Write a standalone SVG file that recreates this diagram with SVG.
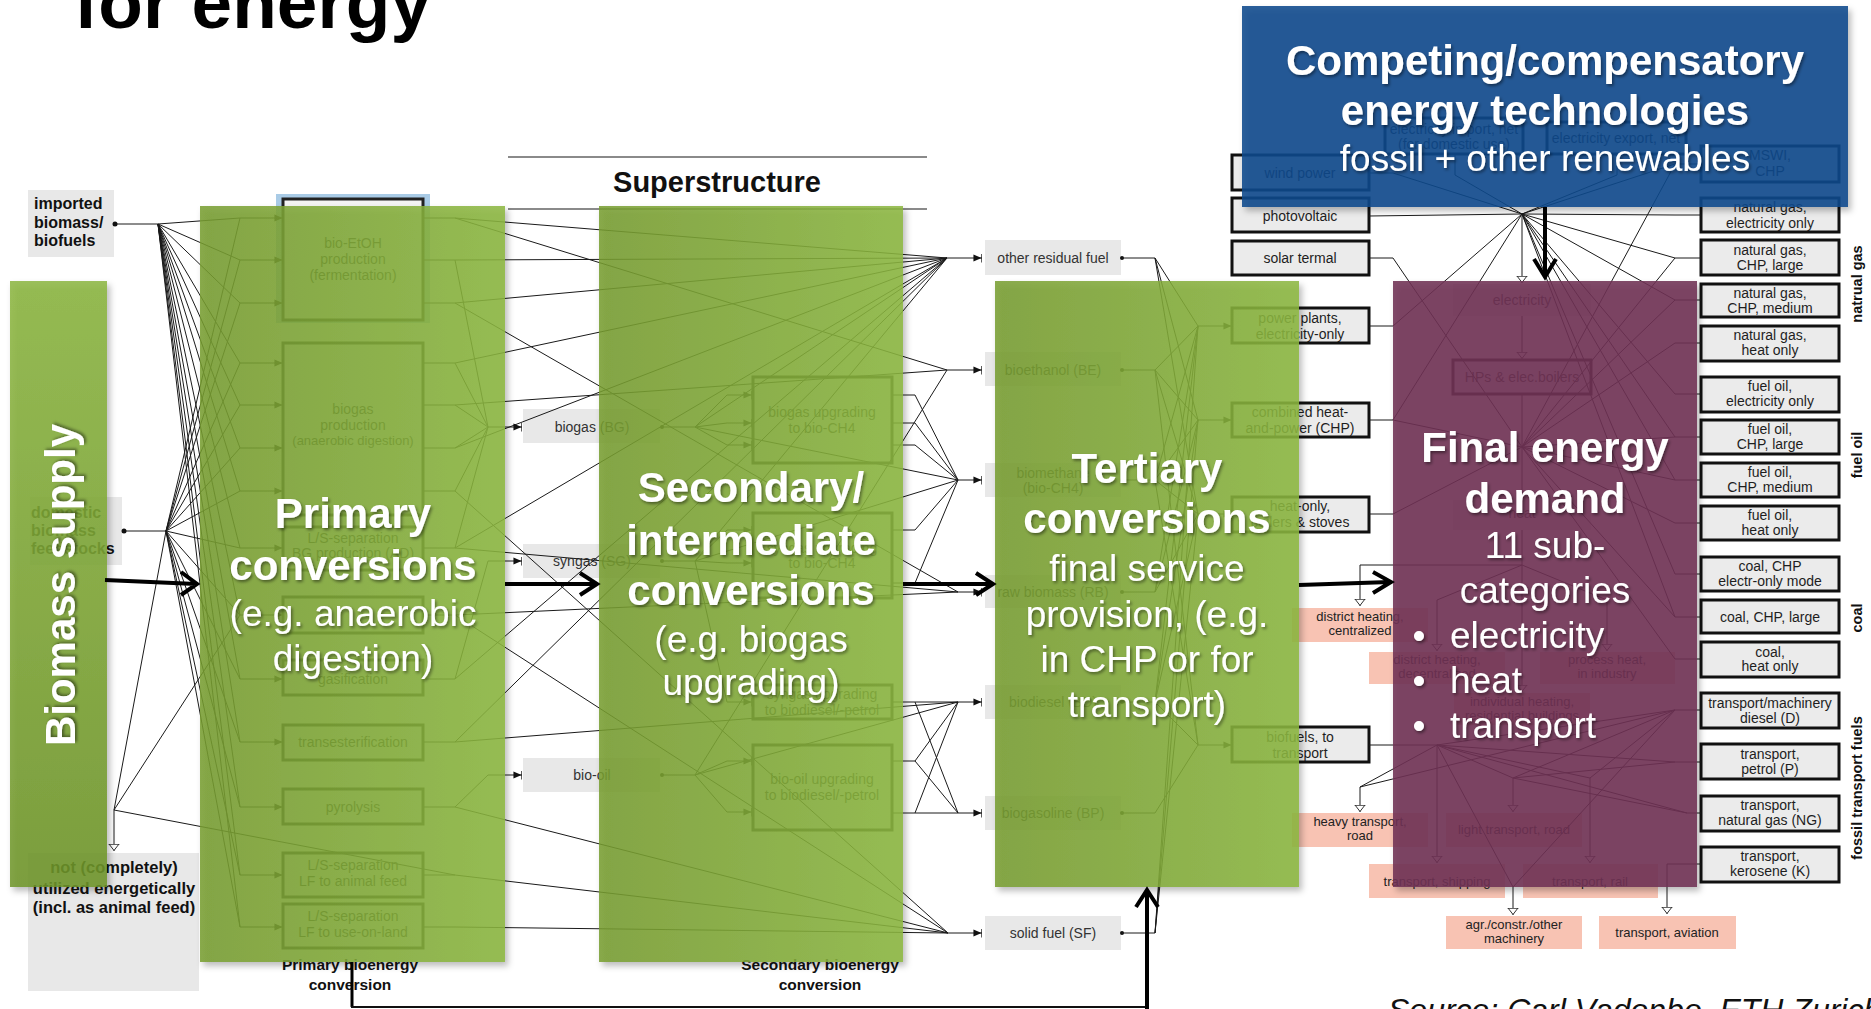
<svg xmlns="http://www.w3.org/2000/svg" width="1871" height="1009" viewBox="0 0 1871 1009">
<defs>
<style>
text{font-family:"Liberation Sans",Arial,Helvetica,sans-serif}
.c{fill:none;stroke:#1a1a1a;stroke-width:1}
.k{fill:none;stroke:#000;stroke-width:4}
.lbl{fill:#e8e8e8}
.bx{fill:#ebebeb;stroke:#111;stroke-width:3}
.ib{fill:#f3f3f3;stroke:#222;stroke-width:3}
.pk{fill:#f8c3b3}
.t14{font-size:14px;fill:#1e1e1e;text-anchor:middle}
.t13{font-size:13px;fill:#222;text-anchor:middle}
.it{font-size:14px;fill:#2a2a2a;text-anchor:middle}
.g14{font-size:14px;fill:#333;text-anchor:middle}
.b16{font-size:16px;font-weight:bold;fill:#111}
.cap{font-size:15.5px;font-weight:bold;fill:#111;text-anchor:middle}
.side{font-size:14.5px;font-weight:bold;fill:#111;text-anchor:middle}
.big{font-size:42px;font-weight:bold;fill:#fff;text-anchor:middle}
.mid{font-size:37px;fill:#fff;text-anchor:middle}
.pan{fill:url(#gGreen);fill-opacity:.86}
.dot{fill:#111}
</style>
<linearGradient id="gGreen" x1="0" y1="0" x2="1" y2="0"><stop offset="0" stop-color="#779d30"/><stop offset="1" stop-color="#8cb740"/></linearGradient>
<linearGradient id="gBar" x1="0" y1="0" x2="0" y2="1"><stop offset="0" stop-color="#8bb53f"/><stop offset="1" stop-color="#6e9528"/></linearGradient>
<filter id="sh" x="-10%" y="-10%" width="125%" height="125%"><feDropShadow dx="3" dy="4" stdDeviation="3" flood-color="#000" flood-opacity=".3"/></filter>
<filter id="ts" x="-10%" y="-20%" width="120%" height="150%"><feDropShadow dx="1.5" dy="2" stdDeviation="1.5" flood-color="#000" flood-opacity=".45"/></filter>
<marker id="arr" viewBox="0 0 10 10" refX="9.5" refY="5" markerWidth="9" markerHeight="9" markerUnits="userSpaceOnUse" orient="auto">
<path d="M0,1 L9,5 L0,9 Z" fill="#111"/><path d="M9.5,0 V10" stroke="#111" stroke-width="1.5"/>
</marker>
<marker id="dn" viewBox="0 0 8 12" refX="7.5" refY="6" markerWidth="8" markerHeight="12" markerUnits="userSpaceOnUse" orient="auto">
<path d="M0.5,0.5 V11.5 M0.5,1 L7,6 L0.5,11 Z" fill="#fff" stroke="#333" stroke-width="1"/>
</marker>
</defs>
<rect width="1871" height="1009" fill="#fff"/>

<text x="74" y="28" style="font-size:73px;font-weight:bold;fill:#000">for energy</text>

<g id="superstructure-heading">
<path d="M508,157 H927 M508,209 H927" stroke="#8a8a8a" stroke-width="2"/>
<text x="717" y="192" style="font-size:29px;font-weight:bold;fill:#111;text-anchor:middle">Superstructure</text>
</g>

<!-- supply side labels -->
<g id="imported-biomass">
<rect x="28" y="190" width="86" height="67" class="lbl"/>
<text class="b16"><tspan x="34" y="209">imported</tspan><tspan x="34" y="228">biomass/</tspan><tspan x="34" y="246">biofuels</tspan></text>
</g>
<g id="domestic-biomass">
<rect x="30" y="497" width="92" height="68" class="lbl"/>
<text class="b16"><tspan x="31" y="518">domestic</tspan><tspan x="31" y="536">biomass</tspan><tspan x="31" y="554">feedstocks</tspan></text>
</g>
<g id="not-utilized">
<rect x="28" y="853" width="171" height="138" class="lbl"/>
<text style="font-size:16.5px;font-weight:bold;fill:#111;text-anchor:middle"><tspan x="114" y="873">not (completely)</tspan><tspan x="114" y="894">utilized energetically</tspan><tspan x="114" y="913">(incl. as animal feed)</tspan></text>
</g>

<!-- primary conversion processes -->
<g id="p-bioetoh">
<rect x="276" y="194" width="154" height="129" fill="#a9cbe6"/>
<rect x="283" y="199" width="140" height="121" class="ib"/>
<text class="it"><tspan x="353" y="248">bio-EtOH</tspan><tspan x="353" y="264">production</tspan><tspan x="353" y="280">(fermentation)</tspan></text>
</g>
<g id="p-biogas">
<rect x="283" y="343" width="140" height="172" class="ib"/>
<text class="it"><tspan x="353" y="414">biogas</tspan><tspan x="353" y="430">production</tspan><tspan x="353" y="445" style="font-size:13px">(anaerobic digestion)</tspan></text>
</g>
<g id="p-ls-bg"><rect x="283" y="527" width="140" height="43" class="ib"/><text class="it"><tspan x="353" y="543">L/S-separation</tspan><tspan x="353" y="558">BG production (AD)</tspan></text></g>
<g id="p-feed"><rect x="283" y="597" width="140" height="36" class="ib"/></g>
<g id="p-gasification"><rect x="283" y="660" width="140" height="35" class="ib"/><text class="it" x="353" y="684">gasification</text></g>
<g id="p-transesterification"><rect x="283" y="725" width="140" height="35" class="ib"/><text class="it" x="353" y="747">transesterification</text></g>
<g id="p-pyrolysis"><rect x="283" y="789" width="140" height="35" class="ib"/><text class="it" x="353" y="812">pyrolysis</text></g>
<g id="p-ls-feed"><rect x="283" y="853" width="140" height="44" class="ib"/><text class="it"><tspan x="353" y="870">L/S-separation</tspan><tspan x="353" y="886">LF to animal feed</tspan></text></g>
<g id="p-ls-land"><rect x="283" y="904" width="140" height="44" class="ib"/><text class="it"><tspan x="353" y="921">L/S-separation</tspan><tspan x="353" y="937">LF to use-on-land</tspan></text></g>
<text class="cap"><tspan x="350" y="970">Primary bioenergy</tspan><tspan x="350" y="990">conversion</tspan></text>

<!-- intermediate products -->
<g id="i-biogas"><rect x="523" y="409" width="137" height="34" class="lbl"/><text class="g14" x="592" y="432">biogas (BG)</text></g>
<g id="i-syngas"><rect x="523" y="544" width="137" height="34" class="lbl"/><text class="g14" x="592" y="566">syngas (SG)</text></g>
<g id="i-biooil"><rect x="523" y="758" width="137" height="34" class="lbl"/><text class="g14" x="592" y="780">bio-oil</text></g>

<!-- secondary conversion processes -->
<g id="s-biogas-up"><rect x="753" y="377" width="139" height="86" class="ib"/><text class="it"><tspan x="822" y="417">biogas upgrading</tspan><tspan x="822" y="433">to bio-CH4</tspan></text></g>
<g id="s-syngas-ch4"><rect x="753" y="513" width="139" height="85" class="ib"/><text class="it"><tspan x="822" y="553">syngas upgrading</tspan><tspan x="822" y="568">to bio-CH4</tspan></text></g>
<g id="s-syngas-diesel"><rect x="753" y="685" width="139" height="34" class="ib"/><text class="it"><tspan x="822" y="699">syngas upgrading</tspan><tspan x="822" y="715">to biodiesel/-petrol</tspan></text></g>
<g id="s-biooil-up"><rect x="753" y="745" width="139" height="85" class="ib"/><text class="it"><tspan x="822" y="784">bio-oil upgrading</tspan><tspan x="822" y="800">to biodiesel/-petrol</tspan></text></g>
<text class="cap"><tspan x="820" y="970">Secondary bioenergy</tspan><tspan x="820" y="990">conversion</tspan></text>

<!-- fuels entering tertiary conversion -->
<g id="f-orf"><rect x="985" y="240" width="136" height="35" class="lbl"/><text class="g14" x="1053" y="263">other residual fuel</text></g>
<g id="f-be"><rect x="985" y="352" width="136" height="34" class="lbl"/><text class="g14" x="1053" y="375">bioethanol (BE)</text></g>
<g id="f-bm"><rect x="985" y="463" width="136" height="34" class="lbl"/><text class="g14"><tspan x="1053" y="478">biomethane</tspan><tspan x="1053" y="493">(bio-CH4)</tspan></text></g>
<g id="f-rb"><rect x="985" y="575" width="136" height="33" class="lbl"/><text class="g14" x="1053" y="597">raw biomass (RB)</text></g>
<g id="f-bd"><rect x="985" y="685" width="136" height="34" class="lbl"/><text class="g14" x="1053" y="707">biodiesel (BD)</text></g>
<g id="f-bp"><rect x="985" y="796" width="136" height="34" class="lbl"/><text class="g14" x="1053" y="818">biogasoline (BP)</text></g>
<g id="f-sf"><rect x="985" y="916" width="136" height="34" class="lbl"/><text class="g14" x="1053" y="938">solid fuel (SF)</text></g>

<!-- tertiary conversion technologies -->
<g id="t-wind"><rect x="1232" y="155" width="137" height="35" class="bx"/><text class="t14" x="1300" y="178">wind power</text></g>
<g id="t-pv"><rect x="1232" y="198" width="137" height="34" class="bx"/><text class="t14" x="1300" y="221">photovoltaic</text></g>
<g id="t-solar"><rect x="1232" y="241" width="137" height="34" class="bx"/><text class="t14" x="1300" y="263">solar termal</text></g>
<g id="t-power"><rect x="1232" y="308" width="137" height="35" class="bx"/><text class="t14"><tspan x="1300" y="323">power plants,</tspan><tspan x="1300" y="339">electricity-only</tspan></text></g>
<g id="t-chp"><rect x="1232" y="403" width="137" height="34" class="bx"/><text class="t14"><tspan x="1300" y="417">combined heat-</tspan><tspan x="1300" y="433">and-power (CHP)</tspan></text></g>
<g id="t-heat"><rect x="1232" y="497" width="137" height="35" class="bx"/><text class="t14"><tspan x="1300" y="511">heat-only,</tspan><tspan x="1300" y="527">boilers &amp; stoves</tspan></text></g>
<g id="t-biofuels"><rect x="1232" y="727" width="137" height="35" class="bx"/><text class="t14"><tspan x="1300" y="742">biofuels, to</tspan><tspan x="1300" y="758">transport</tspan></text></g>

<!-- electricity trade and fossil technologies -->
<g id="x-import"><rect x="1385" y="118" width="138" height="36" class="bx"/><text class="t14"><tspan x="1454" y="134">electricity import, net</tspan><tspan x="1454" y="149">(for domestic use)</tspan></text></g>
<g id="x-export"><rect x="1547" y="122" width="139" height="32" class="bx"/><text class="t14" x="1616" y="143">electricity export, net</text></g>
<g id="x-mswi"><rect x="1701" y="146" width="138" height="36" class="bx"/><text class="t14"><tspan x="1770" y="160">MSWI,</tspan><tspan x="1770" y="176">CHP</tspan></text></g>
<g id="fo-ng-el"><rect x="1701" y="198" width="138" height="34" class="bx"/><text class="t14"><tspan x="1770" y="212">natural gas,</tspan><tspan x="1770" y="228">electricity only</tspan></text></g>
<g id="fo-ng-chpl"><rect x="1701" y="240" width="138" height="35" class="bx"/><text class="t14"><tspan x="1770" y="255">natural gas,</tspan><tspan x="1770" y="270">CHP, large</tspan></text></g>
<g id="fo-ng-chpm"><rect x="1701" y="284" width="138" height="33" class="bx"/><text class="t14"><tspan x="1770" y="298">natural gas,</tspan><tspan x="1770" y="313">CHP, medium</tspan></text></g>
<g id="fo-ng-heat"><rect x="1701" y="326" width="138" height="35" class="bx"/><text class="t14"><tspan x="1770" y="340">natural gas,</tspan><tspan x="1770" y="355">heat only</tspan></text></g>
<g id="fo-oil-el"><rect x="1701" y="377" width="138" height="35" class="bx"/><text class="t14"><tspan x="1770" y="391">fuel oil,</tspan><tspan x="1770" y="406">electricity only</tspan></text></g>
<g id="fo-oil-chpl"><rect x="1701" y="420" width="138" height="34" class="bx"/><text class="t14"><tspan x="1770" y="434">fuel oil,</tspan><tspan x="1770" y="449">CHP, large</tspan></text></g>
<g id="fo-oil-chpm"><rect x="1701" y="463" width="138" height="34" class="bx"/><text class="t14"><tspan x="1770" y="477">fuel oil,</tspan><tspan x="1770" y="492">CHP, medium</tspan></text></g>
<g id="fo-oil-heat"><rect x="1701" y="506" width="138" height="34" class="bx"/><text class="t14"><tspan x="1770" y="520">fuel oil,</tspan><tspan x="1770" y="535">heat only</tspan></text></g>
<g id="fo-coal-el"><rect x="1701" y="557" width="138" height="34" class="bx"/><text class="t14"><tspan x="1770" y="571">coal, CHP</tspan><tspan x="1770" y="586">electr-only mode</tspan></text></g>
<g id="fo-coal-chpl"><rect x="1701" y="600" width="138" height="33" class="bx"/><text class="t14" x="1770" y="622">coal, CHP, large</text></g>
<g id="fo-coal-heat"><rect x="1701" y="642" width="138" height="35" class="bx"/><text class="t14"><tspan x="1770" y="657">coal,</tspan><tspan x="1770" y="671">heat only</tspan></text></g>
<g id="fo-tr-diesel"><rect x="1701" y="693" width="138" height="35" class="bx"/><text class="t14"><tspan x="1770" y="708">transport/machinery</tspan><tspan x="1770" y="723">diesel (D)</tspan></text></g>
<g id="fo-tr-petrol"><rect x="1701" y="744" width="138" height="35" class="bx"/><text class="t14"><tspan x="1770" y="759">transport,</tspan><tspan x="1770" y="774">petrol (P)</tspan></text></g>
<g id="fo-tr-ng"><rect x="1701" y="796" width="138" height="35" class="bx"/><text class="t14"><tspan x="1770" y="810">transport,</tspan><tspan x="1770" y="825">natural gas (NG)</tspan></text></g>
<g id="fo-tr-kero"><rect x="1701" y="847" width="138" height="35" class="bx"/><text class="t14"><tspan x="1770" y="861">transport,</tspan><tspan x="1770" y="876">kerosene (K)</tspan></text></g>
<g id="fossil-groups">
<text class="side" transform="translate(1862,284) rotate(-90)">natrual gas</text>
<text class="side" transform="translate(1862,455) rotate(-90)">fuel oil</text>
<text class="side" transform="translate(1862,618) rotate(-90)">coal</text>
<text class="side" transform="translate(1862,788) rotate(-90)">fossil transport fuels</text>
</g>

<!-- final energy carriers and end uses -->
<g id="d-electricity"><rect x="1453" y="284" width="138" height="32" class="lbl"/><text class="g14" x="1522" y="305">electricity</text></g>
<g id="d-hps"><rect x="1453" y="360" width="138" height="34" fill="#ececec" stroke="#222" stroke-width="3"/><text class="g14" x="1522" y="382">HPs &amp; elec.boilers</text></g>
<g id="d-heat"><rect x="1453" y="500" width="138" height="30" class="lbl"/><text class="g14" x="1522" y="518">heat</text></g>
<g id="u-dh-central"><rect x="1292" y="608" width="136" height="34" class="pk"/><text class="t13"><tspan x="1360" y="621">district heating,</tspan><tspan x="1360" y="635">centralized</tspan></text></g>
<g id="u-dh-decentral"><rect x="1369" y="652" width="136" height="32" class="pk"/><text class="t13"><tspan x="1437" y="664">district heating,</tspan><tspan x="1437" y="678">decentralized</tspan></text></g>
<g id="u-process-heat"><rect x="1540" y="652" width="135" height="32" class="pk"/><text class="t13"><tspan x="1607" y="664">process heat,</tspan><tspan x="1607" y="678">in industry</tspan></text></g>
<g id="u-individual-heat"><rect x="1454" y="693" width="136" height="32" class="pk"/><text class="t13"><tspan x="1522" y="706">individual heating,</tspan><tspan x="1522" y="720">residential buildings</tspan></text></g>
<g id="u-heavy-road"><rect x="1292" y="813" width="136" height="34" class="pk"/><text class="t13"><tspan x="1360" y="826">heavy transport,</tspan><tspan x="1360" y="840">road</tspan></text></g>
<g id="u-light-road"><rect x="1446" y="813" width="136" height="34" class="pk"/><text class="t13" x="1514" y="834">light transport, road</text></g>
<g id="u-shipping"><rect x="1369" y="864" width="136" height="34" class="pk"/><text class="t13" x="1437" y="886">transport, shipping</text></g>
<g id="u-rail"><rect x="1523" y="864" width="135" height="34" class="pk"/><text class="t13" x="1590" y="886">transport, rail</text></g>
<g id="u-machinery"><rect x="1446" y="916" width="136" height="33" class="pk"/><text class="t13"><tspan x="1514" y="929">agr./constr./other</tspan><tspan x="1514" y="943">machinery</tspan></text></g>
<g id="u-aviation"><rect x="1599" y="916" width="137" height="33" class="pk"/><text class="t13" x="1667" y="937">transport, aviation</text></g>

<g id="connectors">
<!-- feedstock fans into primary inputs -->
<path class="c" d="M115,224 H158 M158,224 L240,218 M158,224 L240,260 M158,224 L240,303 M158,224 L240,363 M158,224 L240,405 M158,224 L240,448 M158,224 L240,491 M158,224 L240,548 M158,224 L240,615 M158,224 L240,679 M158,224 L240,742 M158,224 L240,807 M158,224 L240,875 M158,224 L240,927"/>
<path class="c" d="M124,531 H166 M166,531 L240,218 M166,531 L240,260 M166,531 L240,303 M166,531 L240,363 M166,531 L240,405 M166,531 L240,448 M166,531 L240,491 M166,531 L240,548 M166,531 L240,615 M166,531 L240,679 M166,531 L240,742 M166,531 L240,807 M166,531 L240,875 M166,531 L240,927 M166,531 L114,810 M114,810 L240,615"/>
<circle class="dot" cx="115" cy="224" r="2.5"/><circle class="dot" cx="124" cy="531" r="2.5"/>
<path class="c" marker-end="url(#dn)" d="M114,810 V851"/>
<path class="c" marker-end="url(#arr)" d="M240,218 H283"/>
<path class="c" marker-end="url(#arr)" d="M240,260 H283"/>
<path class="c" marker-end="url(#arr)" d="M240,303 H283"/>
<path class="c" marker-end="url(#arr)" d="M240,363 H283"/>
<path class="c" marker-end="url(#arr)" d="M240,405 H283"/>
<path class="c" marker-end="url(#arr)" d="M240,448 H283"/>
<path class="c" marker-end="url(#arr)" d="M240,491 H283"/>
<path class="c" marker-end="url(#arr)" d="M240,548 H283"/>
<path class="c" marker-end="url(#arr)" d="M240,615 H283"/>
<path class="c" marker-end="url(#arr)" d="M240,679 H283"/>
<path class="c" marker-end="url(#arr)" d="M240,742 H283"/>
<path class="c" marker-end="url(#arr)" d="M240,807 H283"/>
<path class="c" marker-end="url(#arr)" d="M240,875 H283"/>
<path class="c" marker-end="url(#arr)" d="M240,927 H283"/>
<!-- primary outputs -->
<path class="c" d="M423,218 H455 M423,260 H455 M423,303 H455 M423,363 H455 M423,405 H455 M423,448 H455 M423,491 H455 M423,548 H455 M423,615 H455 M423,679 H455 M423,742 H455 M423,807 H455 M423,875 H455 M423,927 H455"/>
<path class="c" d="M455,218 L947,370 M455,218 L947,258 M455,260 L947,258 M455,260 L488,427 M455,303 L947,258 M455,303 L958,592 M455,363 L488,427 M455,363 L947,258 M455,405 L488,427 M455,405 L947,370 M455,448 L488,427 M455,448 L947,258 M455,491 L488,427 M455,491 L948,933 M455,548 L488,427 M455,548 L947,258 M455,548 L958,592 M455,615 L958,592 M455,615 L948,933 M455,679 L488,561 M455,679 L947,258 M455,742 L958,702 M455,742 L947,258 M455,807 L488,775 M455,807 L948,933 M455,875 L114,810 M455,875 L948,933 M455,927 L948,933"/>
<path class="c" marker-end="url(#arr)" d="M488,427 H522"/>
<path class="c" marker-end="url(#arr)" d="M488,561 H522"/>
<path class="c" marker-end="url(#arr)" d="M488,775 H522"/>
<!-- intermediate products into secondary processes -->
<circle class="dot" cx="662" cy="427" r="2"/><circle class="dot" cx="662" cy="561" r="2"/><circle class="dot" cx="662" cy="775" r="2"/>
<path class="c" d="M662,427 H695 M695,427 L727,395 M695,427 L727,423 M695,427 L727,445 M695,427 L947,258 M695,427 L958,480 M662,561 H695 M695,561 L727,530 M695,561 L727,563 M695,561 L727,702 M695,561 L958,480 M695,561 L947,258 M662,775 H695 M695,775 L727,761 M695,775 L727,812 M695,775 L958,702 M695,775 L947,370"/>
<path class="c" marker-end="url(#arr)" d="M727,395 H752"/>
<path class="c" marker-end="url(#arr)" d="M727,423 H752"/>
<path class="c" marker-end="url(#arr)" d="M727,445 H752"/>
<path class="c" marker-end="url(#arr)" d="M727,530 H752"/>
<path class="c" marker-end="url(#arr)" d="M727,563 H752"/>
<path class="c" marker-end="url(#arr)" d="M727,702 H752"/>
<path class="c" marker-end="url(#arr)" d="M727,761 H752"/>
<path class="c" marker-end="url(#arr)" d="M727,812 H752"/>
<!-- secondary outputs -->
<path class="c" d="M892,395 H915 L958,480 M892,423 H915 L958,480 M892,445 H915 L958,480 M892,530 H915 L958,480 M892,583 H915 L958,480 M892,702 H915 L958,702 M915,702 L958,813 M892,761 H915 L958,702 M915,761 L958,813 M892,813 H958 M915,813 L958,702"/>
<path class="c" marker-end="url(#arr)" d="M947,258 H982"/>
<path class="c" marker-end="url(#arr)" d="M947,370 H982"/>
<path class="c" marker-end="url(#arr)" d="M958,480 H982"/>
<path class="c" marker-end="url(#arr)" d="M958,592 H982"/>
<path class="c" marker-end="url(#arr)" d="M958,702 H982"/>
<path class="c" marker-end="url(#arr)" d="M958,813 H982"/>
<path class="c" marker-end="url(#arr)" d="M948,933 H982"/>
<!-- fuels into tertiary technologies -->
<circle class="dot" cx="1122" cy="258" r="2"/><circle class="dot" cx="1122" cy="370" r="2"/><circle class="dot" cx="1122" cy="480" r="2"/><circle class="dot" cx="1122" cy="592" r="2"/><circle class="dot" cx="1122" cy="702" r="2"/><circle class="dot" cx="1122" cy="813" r="2"/><circle class="dot" cx="1122" cy="933" r="2"/>
<path class="c" d="M1122,258 H1155 M1155,258 L1198,326 M1155,258 L1198,420 M1155,258 L1198,514 M1122,370 H1155 M1155,370 L1198,326 M1155,370 L1198,420 M1155,370 L1198,514 M1155,370 L1198,745 M1122,480 H1155 M1155,480 L1198,326 M1155,480 L1198,420 M1155,480 L1198,514 M1155,480 L1198,745 M1122,592 H1155 M1155,592 L1198,326 M1155,592 L1198,420 M1155,592 L1198,514 M1122,702 H1155 M1155,702 L1198,326 M1155,702 L1198,420 M1155,702 L1198,514 M1155,702 L1198,745 M1122,813 H1155 L1198,745 M1122,933 H1155 M1155,933 L1198,326 M1155,933 L1198,420 M1155,933 L1198,514"/>
<path class="c" marker-end="url(#arr)" d="M1198,326 H1232"/>
<path class="c" marker-end="url(#arr)" d="M1198,420 H1232"/>
<path class="c" marker-end="url(#arr)" d="M1198,514 H1232"/>
<path class="c" marker-end="url(#arr)" d="M1198,745 H1232"/>
<!-- tertiary outputs and fossil technologies to final energy -->
<path class="c" d="M1369,173 H1393 L1522,214 M1369,216 L1522,214 M1369,258 H1393 L1522,447 M1369,326 H1393 L1522,214 M1369,420 H1393 L1522,214 M1393,420 L1522,447 M1369,514 H1393 L1522,447 M1369,745 H1437"/>
<path class="c" d="M1455,154 V175 L1522,214 M1617,154 V175 L1522,214 M1701,164 H1675 L1522,214 M1675,164 L1522,447"/>
<path class="c" d="M1701,215 H1675 L1522,214 M1701,258 H1675 L1522,214 M1675,258 L1522,447 M1701,300 H1675 L1522,214 M1675,300 L1522,447 M1701,343 H1675 L1522,447 M1701,394 H1675 L1522,214 M1701,437 H1675 L1522,214 M1675,437 L1522,447 M1701,480 H1675 L1522,214 M1675,480 L1522,447 M1701,523 H1675 L1522,447 M1701,574 H1675 L1522,214 M1701,617 H1675 L1522,214 M1675,617 L1522,447 M1701,659 H1675 L1522,447"/>
<path class="c" d="M1701,710 H1675 L1437,745 M1675,710 L1513,778 M1675,710 L1590,778 M1675,710 L1513,887 M1675,710 L1360,787 M1701,762 H1675 L1437,745 M1675,762 L1513,778 M1701,813 H1687 L1437,745 M1687,813 L1513,778 M1437,745 L1590,778"/>
<path class="c" marker-end="url(#dn)" d="M1701,864 H1667 V914"/>
<path class="c" marker-end="url(#dn)" d="M1522,214 V283"/>
<path class="c" marker-end="url(#dn)" d="M1522,316 V359"/>
<path class="c" d="M1522,394 V447"/>
<path class="c" marker-end="url(#dn)" d="M1522,447 V499"/>
<path class="c" d="M1522,530 V565"/>
<path class="c" marker-end="url(#dn)" d="M1522,565 H1360 V606"/>
<path class="c" marker-end="url(#dn)" d="M1522,565 L1437,600 V651"/>
<path class="c" marker-end="url(#dn)" d="M1522,565 L1607,600 V651"/>
<path class="c" marker-end="url(#dn)" d="M1522,565 V692"/>
<path class="c" marker-end="url(#dn)" d="M1437,745 L1360,787 V812"/>
<path class="c" marker-end="url(#dn)" d="M1437,745 V863"/>
<path class="c" marker-end="url(#dn)" d="M1437,745 L1513,887 V915"/>
<path class="c" marker-end="url(#dn)" d="M1437,745 L1513,778 V812"/>
<path class="c" marker-end="url(#dn)" d="M1590,778 V863"/>
</g>

<!-- stage panels -->
<g id="biomass-supply">
<rect x="10" y="281" width="97" height="606" fill="url(#gBar)" fill-opacity=".86" filter="url(#sh)"/>
<text class="big" transform="translate(75,585) rotate(-90)" filter="url(#ts)">Biomass supply</text>
</g>
<g id="primary-conversions">
<rect x="200" y="206" width="305" height="756" class="pan" filter="url(#sh)"/>
<g filter="url(#ts)">
<text class="big"><tspan x="353" y="528">Primary</tspan><tspan x="353" y="580">conversions</tspan></text>
<text class="mid"><tspan x="353" y="626">(e.g. anaerobic</tspan><tspan x="353" y="671">digestion)</tspan></text>
</g>
</g>
<g id="secondary-conversions">
<rect x="599" y="206" width="304" height="756" class="pan" filter="url(#sh)"/>
<g filter="url(#ts)">
<text class="big"><tspan x="751" y="502">Secondary/</tspan><tspan x="751" y="555">intermediate</tspan><tspan x="751" y="605">conversions</tspan></text>
<text class="mid"><tspan x="751" y="652">(e.g. biogas</tspan><tspan x="751" y="695">upgrading)</tspan></text>
</g>
</g>
<g id="tertiary-conversions">
<rect x="995" y="281" width="304" height="606" class="pan" filter="url(#sh)"/>
<g filter="url(#ts)">
<text class="big"><tspan x="1147" y="483">Tertiary</tspan><tspan x="1147" y="533">conversions</tspan></text>
<text class="mid"><tspan x="1147" y="581">final service</tspan><tspan x="1147" y="627">provision, (e.g.</tspan><tspan x="1147" y="672">in CHP or for</tspan><tspan x="1147" y="717">transport)</tspan></text>
</g>
</g>
<g id="final-energy-demand">
<rect x="1393" y="281" width="304" height="606" fill="#703254" fill-opacity=".88" filter="url(#sh)"/>
<g filter="url(#ts)">
<text class="big"><tspan x="1545" y="462">Final energy</tspan><tspan x="1545" y="513">demand</tspan></text>
<text class="mid"><tspan x="1545" y="558">11 sub-</tspan><tspan x="1545" y="603">categories</tspan></text>
<text class="mid"><tspan x="1419" y="648">•</tspan><tspan x="1419" y="693">•</tspan><tspan x="1419" y="738">•</tspan></text>
<text class="mid" style="text-anchor:start"><tspan x="1450" y="648">electricity</tspan><tspan x="1450" y="693">heat</tspan><tspan x="1450" y="738">transport</tspan></text>
</g>
</g>
<g id="competing-technologies">
<rect x="1242" y="6" width="606" height="201" fill="#114a8c" fill-opacity=".88" filter="url(#sh)"/>
<g filter="url(#ts)">
<text class="big"><tspan x="1545" y="75">Competing/compensatory</tspan><tspan x="1545" y="125">energy technologies</tspan></text>
<text class="mid" x="1545" y="171">fossil + other renewables</text>
</g>
</g>

<!-- main flow arrows between stages -->
<g id="stage-arrows">
<path class="k" d="M105,580 L196,584 M181,572 L197,584 L181,595"/>
<path class="k" d="M505,584 H597 M580,573 L597,584 L580,595"/>
<path class="k" d="M903,584 H993 M976,573 L993,584 L976,595"/>
<path class="k" d="M1299,585 L1390,582 M1373,572 L1391,582 L1373,593"/>
<path class="k" d="M1545,207 V276 M1534,259 L1545,277 L1556,259"/>
<path d="M352,962 V1007" stroke="#000" stroke-width="3"/>
<path d="M351,1007 H1147" stroke="#111" stroke-width="2"/>
<path class="k" d="M1147,1009 V890 M1136,907 L1147,890 L1158,907"/>
</g>

<text x="1388" y="1021" style="font-size:32px;font-style:italic;fill:#111">Source: Carl Vadenbo, ETH Zurich</text>
</svg>
